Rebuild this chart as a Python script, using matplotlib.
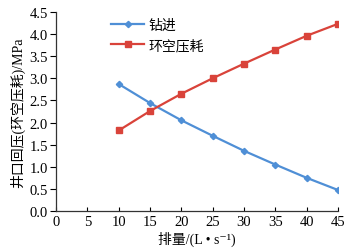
import matplotlib
matplotlib.use("Agg")
import matplotlib.pyplot as plt

plt.rcParams["font.family"] = ["Liberation Serif", "Noto Sans CJK SC", "DejaVu Sans"]

flow = [10, 15, 20, 25, 30, 35, 40, 45]
drilling = [2.87, 2.44, 2.05, 1.70, 1.36, 1.05, 0.75, 0.475]
annulus_loss = [1.82, 2.26, 2.65, 3.00, 3.33, 3.65, 3.96, 4.23]
series_labels = ["钻进", "环空压耗"]

fig = plt.figure(figsize=(3.55, 2.53), dpi=100)
ax = fig.add_axes([0.158, 0.162, 0.794, 0.787])

ax.plot(flow, drilling, color="#4f8fd6", marker="D", markersize=3.2,
        linewidth=1.6, label=series_labels[0])
ax.plot(flow, annulus_loss, color="#d9433a", marker="s", markersize=3.8,
        linewidth=1.6, label=series_labels[1])

ax.set_xlim(0, 45)
ax.set_ylim(0, 4.5)
ax.set_xticks(range(0, 46, 5))
ax.set_yticks([i * 0.5 for i in range(10)])
ax.set_yticklabels([f"{i * 0.5:.1f}" for i in range(10)])
ax.tick_params(axis="x", direction="in", length=3, labelsize=10.5, pad=3, width=0.8)
ax.tick_params(axis="y", direction="out", length=4, labelsize=10.5, pad=2, width=0.8)
for side in ("top", "right"):
    ax.spines[side].set_visible(False)
for side in ("left", "bottom"):
    ax.spines[side].set_linewidth(0.9)
    ax.spines[side].set_color("#333333")

ax.set_xlabel("排量/(L • s⁻¹)", fontsize=10, labelpad=2)
ax.set_ylabel("井口回压(环空压耗)/MPa", fontsize=10, labelpad=3)

ax.legend(loc="upper left", bbox_to_anchor=(0.15, 1.03), frameon=False,
          fontsize=10, handlelength=2.4, labelspacing=0.5, handletextpad=0.3)

fig.savefig("out.png", dpi=100, facecolor="white")
